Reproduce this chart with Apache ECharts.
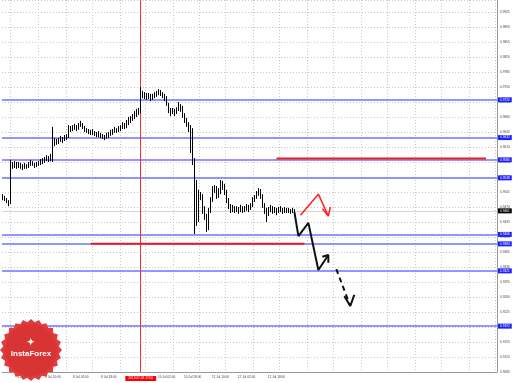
<!DOCTYPE html>
<html><head><meta charset="utf-8">
<script src="https://cdn.jsdelivr.net/npm/echarts@6/dist/echarts.min.js"></script>
<style>html,body{margin:0;padding:0;background:#fff}#c{width:519px;height:383px}</style>
</head><body><div id="c"></div>
<script>
// ---- data (H1 candles, approx) ----
const firstOpen = 0.9496;
const closes = [
0.9491,0.9489,0.9484,0.9479,0.9568,0.9566,0.9570,0.9563,0.9568,0.9566,
0.9561,0.9566,0.9563,0.9568,0.9575,0.9570,0.9566,0.9568,0.9570,0.9575,
0.9577,0.9580,0.9584,0.9580,0.9587,0.9626,0.9619,0.9622,0.9624,0.9629,
0.9626,0.9631,0.9633,0.9654,0.9650,0.9654,0.9657,0.9652,0.9659,0.9664,
0.9657,0.9650,0.9647,0.9645,0.9643,0.9645,0.9640,0.9638,0.9640,0.9636,
0.9633,0.9631,0.9636,0.9638,0.9643,0.9645,0.9650,0.9647,0.9652,0.9654,
0.9659,0.9657,0.9664,0.9671,0.9673,0.9678,0.9685,0.9689,0.9692,0.9736,
0.9731,0.9729,0.9727,0.9729,0.9724,0.9727,0.9731,0.9734,0.9738,0.9736,
0.9731,0.9724,0.9710,0.9696,0.9692,0.9694,0.9689,0.9696,0.9706,0.9701,
0.9685,0.9673,0.9664,0.9657,0.9650,0.9580,0.9528,0.9440,0.9500,0.9496,
0.9463,0.9449,0.9421,0.9458,0.9486,0.9510,0.9514,0.9496,0.9505,0.9524,
0.9519,0.9505,0.9486,0.9472,0.9463,0.9468,0.9463,0.9465,0.9461,0.9468,
0.9463,0.9465,0.9470,0.9465,0.9472,0.9486,0.9491,0.9500,0.9507,0.9496,
0.9475,0.9463,0.9451,0.9463,0.9468,0.9461,0.9463,0.9458,0.9463,0.9465,
0.9461,0.9463,0.9461,0.9463,0.9458,0.9461,0.9461];
const highs = [
0.9500,0.9496,0.9491,0.9486,0.9580,0.9575,0.9577,0.9575,0.9575,0.9573,
0.9570,0.9573,0.9570,0.9575,0.9580,0.9577,0.9573,0.9575,0.9577,0.9582,
0.9584,0.9587,0.9591,0.9589,0.9594,0.9657,0.9631,0.9629,0.9631,0.9636,
0.9633,0.9638,0.9640,0.9661,0.9659,0.9661,0.9664,0.9661,0.9666,0.9671,
0.9666,0.9659,0.9654,0.9652,0.9650,0.9652,0.9647,0.9645,0.9647,0.9643,
0.9640,0.9638,0.9643,0.9645,0.9650,0.9652,0.9657,0.9654,0.9659,0.9661,
0.9668,0.9666,0.9673,0.9680,0.9682,0.9687,0.9694,0.9699,0.9701,0.9750,
0.9741,0.9738,0.9736,0.9736,0.9734,0.9734,0.9738,0.9741,0.9745,0.9743,
0.9738,0.9734,0.9729,0.9713,0.9701,0.9701,0.9699,0.9703,0.9715,0.9710,
0.9706,0.9689,0.9678,0.9668,0.9661,0.9654,0.9584,0.9533,0.9510,0.9505,
0.9500,0.9472,0.9454,0.9468,0.9493,0.9519,0.9521,0.9519,0.9514,0.9533,
0.9531,0.9524,0.9510,0.9491,0.9477,0.9475,0.9472,0.9472,0.9470,0.9475,
0.9472,0.9472,0.9477,0.9475,0.9479,0.9493,0.9498,0.9507,0.9514,0.9512,
0.9500,0.9479,0.9468,0.9470,0.9475,0.9472,0.9470,0.9468,0.9470,0.9472,
0.9468,0.9470,0.9468,0.9468,0.9465,0.9468,0.9465];
const lows = [
0.9486,0.9484,0.9479,0.9472,0.9477,0.9559,0.9561,0.9559,0.9561,0.9559,
0.9556,0.9559,0.9559,0.9561,0.9566,0.9566,0.9561,0.9563,0.9566,0.9568,
0.9570,0.9573,0.9577,0.9575,0.9577,0.9575,0.9612,0.9615,0.9617,0.9622,
0.9619,0.9624,0.9626,0.9631,0.9645,0.9647,0.9650,0.9647,0.9650,0.9657,
0.9652,0.9645,0.9643,0.9640,0.9638,0.9638,0.9636,0.9633,0.9633,0.9631,
0.9629,0.9626,0.9629,0.9631,0.9636,0.9638,0.9643,0.9643,0.9645,0.9647,
0.9652,0.9652,0.9654,0.9661,0.9666,0.9671,0.9675,0.9680,0.9685,0.9689,
0.9724,0.9722,0.9720,0.9722,0.9717,0.9720,0.9724,0.9727,0.9731,0.9729,
0.9724,0.9717,0.9706,0.9689,0.9682,0.9687,0.9682,0.9687,0.9694,0.9692,
0.9678,0.9666,0.9657,0.9645,0.9596,0.9568,0.9407,0.9426,0.9435,0.9486,
0.9454,0.9440,0.9412,0.9416,0.9456,0.9482,0.9503,0.9489,0.9491,0.9500,
0.9510,0.9498,0.9479,0.9465,0.9456,0.9458,0.9456,0.9458,0.9454,0.9458,
0.9456,0.9458,0.9461,0.9458,0.9463,0.9470,0.9482,0.9489,0.9496,0.9489,
0.9468,0.9454,0.9435,0.9449,0.9458,0.9454,0.9456,0.9451,0.9456,0.9458,
0.9454,0.9456,0.9456,0.9456,0.9454,0.9456,0.9456];

const slotCount = 248;                       // chart width in bar slots
const timeLabelIdx  = [11, 25, 39, 53, 82, 95, 109, 122, 137];
const timeLabelText = ['4 Jul 18:00','5 Jul 10:00','8 Jul 02:00','8 Jul 18:00',
                       '10 Jul 02:00','10 Jul 18:00','11 Jul 10:00','12 Jul 02:00','12 Jul 18:00'];
const vGridIdx = [4,18,32,45,59,72,86,99,112,126,139,153,166,180,193,207,220,234,247];
const markerIdx = 69;
const markerText = '2019.07.09 17:00';

const yMin = 0.9085, yMax = 0.9953, yStep = 0.0035;
const blueLevels = [0.9720, 0.9632, 0.9580, 0.9538, 0.9406, 0.9384, 0.9321, 0.9192];
const bidPrice = 0.9461;
const redSegA = [[44, 0.9384], [151, 0.9384]];
const redSegB = [[137, 0.9583], [242, 0.9583]];
const blackSolid = [[146, 0.9458], [148, 0.9402], [153, 0.9433], [158, 0.9323], [163, 0.9358]];
const blackSolidHead = [[160, 0.9354], [163, 0.9358], [163, 0.9340]];
const blackDashed = [[167, 0.9325], [174, 0.9239]];
const blackDashedHead = [[171, 0.9262], [174, 0.9239], [175.5, 0.9265]];
const redArrow = [[149, 0.9451], [158, 0.9500], [163, 0.9449]];
const redArrowHead = [[159.5, 0.9466], [163, 0.9449], [163.5, 0.9470]];

// ---- build ----
const cats = Array.from({length: slotCount}, (_, i) => String(i));
const labelMap = {};
timeLabelIdx.forEach((k, j) => labelMap[k] = timeLabelText[j]);
labelMap[markerIdx] = '{r|' + markerText + '}';
const candles = closes.map((c, i) => [i === 0 ? firstOpen : closes[i - 1], c, lows[i], highs[i]]);

const FONT = 'Liberation Sans';
const chart = echarts.init(document.getElementById('c'), null, {renderer: 'canvas'});

const seal = [];
for (let k = 0; k < 48; k++) {
  const a = k / 48 * Math.PI * 2, r = (k % 2 ? 28 : 31);
  seal.push([31 + r * Math.cos(a), 350 + r * Math.sin(a)]);
}

const lbl = (bg) => ({show: true, position: 'end', distance: 1, formatter: p => (+p.value).toFixed(4),
  backgroundColor: bg, color: '#fff', fontSize: 3.2, fontFamily: FONT, padding: [1, 2]});
const seg = (data, color, width, type, z) => ({type: 'line', data, symbol: 'none', silent: true, z: z || 8,
  lineStyle: {color, width, type: type || 'solid'}});

chart.setOption({
  animation: false,
  backgroundColor: '#fff',
  grid: {left: 0, right: 22, top: 0, bottom: 11, show: false},
  xAxis: {
    type: 'category', data: cats, boundaryGap: true,
    axisLine: {show: true, lineStyle: {color: '#999', width: 1}},
    axisTick: {show: false},
    axisLabel: {
      interval: 0, margin: 4, fontSize: 3.2, fontFamily: FONT, color: '#444',
      formatter: (v, i) => labelMap[i] || '',
      rich: {r: {backgroundColor: '#ff0000', color: '#fff', fontSize: 3.2, fontFamily: FONT, padding: [1, 3]}}
    },
    splitLine: {show: true, interval: (i) => vGridIdx.includes(i),
      lineStyle: {color: '#c9c9c9', type: [1, 2], width: 1}}
  },
  yAxis: {
    type: 'value', position: 'right', min: yMin, max: yMax, interval: yStep,
    axisLine: {show: true, lineStyle: {color: '#999'}},
    axisTick: {show: false},
    axisLabel: {fontSize: 3.2, fontFamily: FONT, color: '#444', margin: 3, showMaxLabel: false,
      formatter: v => v.toFixed(4)},
    splitLine: {show: true, lineStyle: {color: '#c9c9c9', type: [1, 2], width: 1}}
  },
  series: [
    {
      type: 'line', data: [], symbol: 'none', silent: true, z: 1,
      markLine: {
        silent: true, symbol: 'none', animation: false, precision: 4, z: 1,
        data: [
          ...blueLevels.map(v => ({yAxis: v, lineStyle: {color: '#7272ff', width: 1.5, type: 'solid'}, label: lbl('#1e1eff')})),
          {yAxis: bidPrice, lineStyle: {color: '#d4d4d4', width: 1, type: 'solid'}, label: lbl('#000')},
          {xAxis: markerIdx, lineStyle: {color: '#ff2a2a', width: 1, type: 'solid'}, label: {show: false}}
        ]
      }
    },
    {
      type: 'candlestick', data: candles, barWidth: 1, z: 5,
      itemStyle: {color: '#000', color0: '#000', borderColor: '#000', borderColor0: '#000', borderWidth: 1}
    },
    seg(redSegA, '#e8201c', 2),
    seg(redSegB, '#e8201c', 2),
    seg(blackSolid, '#111', 2),
    seg(blackSolidHead, '#111', 2),
    seg(blackDashed, '#111', 2, [5, 4]),
    seg(blackDashedHead, '#111', 2),
    seg(redArrow, '#ff2020', 1.5),
    seg(redArrowHead, '#ff2020', 1.5)
  ],
  graphic: [
    {type: 'polygon', shape: {points: seal}, style: {fill: '#e23b3b'}, z: 100},
    {type: 'circle', shape: {cx: 31, cy: 350, r: 26}, style: {fill: '#d93434'}, z: 101},
    {type: 'text', x: 31, y: 343, style: {text: '✦', fill: '#fff', font: 'bold 9px ' + FONT, align: 'center', verticalAlign: 'middle'}, z: 102},
    {type: 'text', x: 31, y: 354, style: {text: 'InstaForex', fill: '#fff', font: 'bold 8px ' + FONT, align: 'center', verticalAlign: 'middle'}, z: 102}
  ]
});
</script></body></html>
